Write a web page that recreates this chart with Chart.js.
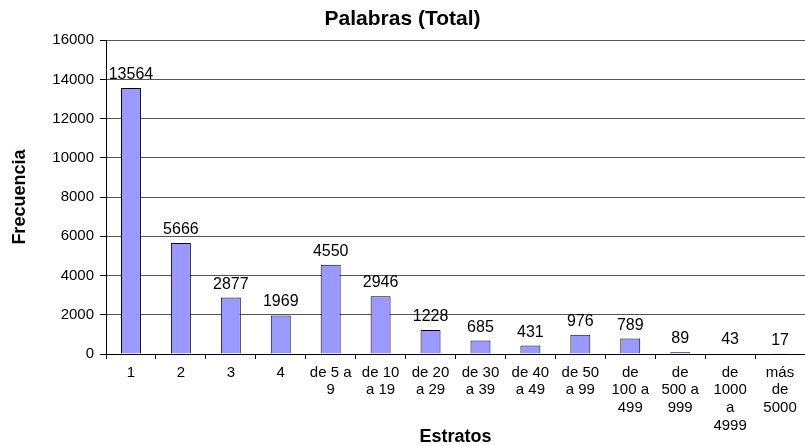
<!DOCTYPE html>
<html>
<head>
<meta charset="utf-8">
<script src="https://cdn.jsdelivr.net/npm/chart.js@4/dist/chart.umd.min.js"></script>
<style>
  body { margin: 0; background: #fff; }
  canvas { display: block; }
</style>
</head>
<body>
<canvas id="ctx" width="805" height="446"></canvas>
<script>
const estratos = ["1", "2", "3", "4", ["de 5 a", "9"], ["de 10", "a 19"], ["de 20", "a 29"], ["de 30", "a 39"],
  ["de 40", "a 49"], ["de 50", "a 99"], ["de", "100 a", "499"], ["de", "500 a", "999"], ["de", "1000", "a", "4999"], ["más", "de", "5000"]];
const frecuencia = [13564, 5666, 2877, 1969, 4550, 2946, 1228, 685, 431, 976, 789, 89, 43, 17];
const yMin = 0, yMax = 16000, yStep = 2000;

const fuente = "'Liberation Sans', Arial, sans-serif";

// etiquetas de valor encima de cada barra
const etiquetas = {
  id: "etiquetas",
  afterDatasetsDraw(chart) {
    const c = chart.ctx;
    const meta = chart.getDatasetMeta(0);
    c.save();
    c.font = "16px " + fuente;
    c.fillStyle = "#000";
    c.textAlign = "center";
    c.textBaseline = "alphabetic";
    meta.data.forEach((bar, i) => {
      c.fillText(String(frecuencia[i]), bar.x, bar.y - 9);
    });
    c.restore();
  }
};

const ctx = document.getElementById("ctx").getContext("2d");

new Chart(ctx, {
  type: "bar",
  data: {
    labels: estratos,
    datasets: [{
      label: "Palabras",
      data: frecuencia,
      backgroundColor: "#9999FF",
      borderColor: "#000",
      borderWidth: 1,
      categoryPercentage: 1,
      barPercentage: 0.4
    }]
  },
  options: {
    responsive: false,
    animation: false,
    layout: { padding: 0 },
    plugins: {
      legend: { display: false },
      tooltip: { enabled: false },
      title: {
        display: true,
        text: "Palabras (Total)",
        color: "#000",
        font: { family: fuente, size: 21, weight: "bold", lineHeight: 1.2 },
        padding: { top: 7, bottom: 8 }
      }
    },
    scales: {
      x: {
        afterFit: (s) => { s.height = 92; },
        border: { color: "#000", width: 1 },
        grid: { drawOnChartArea: false, drawTicks: true, tickLength: 5, tickColor: "#000" },
        ticks: {
          color: "#000",
          autoSkip: false,
          maxRotation: 0,
          minRotation: 0,
          padding: 5,
          font: { family: fuente, size: 15, lineHeight: 1.17 }
        },
        title: {
          display: true,
          text: "Estratos",
          color: "#000",
          font: { family: fuente, size: 18, weight: "bold", lineHeight: 1 },
          padding: { top: 0, bottom: 0 }
        }
      },
      y: {
        min: yMin,
        max: yMax,
        afterFit: (s) => { s.width = 106; },
        border: { color: "#000", width: 1 },
        grid: { color: "#555", lineWidth: 1, tickLength: 6, tickColor: "#000" },
        ticks: {
          stepSize: yStep,
          color: "#000",
          padding: 6,
          font: { family: fuente, size: 15 },
          callback: (v) => String(v)
        },
        title: {
          display: true,
          text: "Frecuencia",
          color: "#000",
          font: { family: fuente, size: 18, weight: "bold", lineHeight: 1.2 },
          padding: { top: 9, bottom: 0 }
        }
      }
    }
  },
  plugins: [etiquetas]
});
</script>
</body>
</html>
